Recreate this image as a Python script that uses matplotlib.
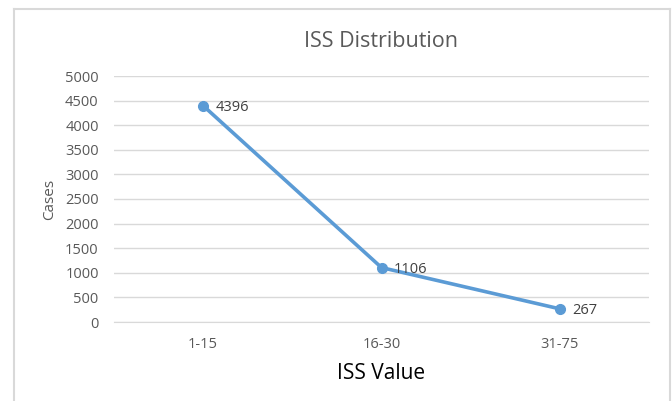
import matplotlib
matplotlib.use('Agg')
import matplotlib.pyplot as plt
from matplotlib.lines import Line2D

categorias = ['1-15', '16-30', '31-75']
casos = [4396, 1106, 267]
ticks_y = [0, 500, 1000, 1500, 2000, 2500, 3000, 3500, 4000, 4500, 5000]

plt.rcParams['font.family'] = ['Open Sans', 'DejaVu Sans']
gris = '#595959'

fig = plt.figure(figsize=(6.72, 4.01), dpi=100)
W, H = 672.0, 401.0
# area del grafico en pixeles
ax = fig.add_axes([114 / W, 1 - 322 / H, (649 - 114) / W, (322 - 76) / H])

x = list(range(len(categorias)))
ax.plot(x, casos, color='#5B9BD5', lw=2.6, marker='o', ms=7, zorder=3,
        solid_capstyle='round')
for xi, v in zip(x, casos):
    ax.annotate(str(v), (xi, v), xytext=(9, -1.5), textcoords='offset points',
                fontsize=10.5, color='#404040', va='center', ha='left')

ax.set_xlim(-0.5, len(categorias) - 0.5)
ax.set_ylim(0, 5000)
ax.set_yticks(ticks_y)
ax.set_xticks(x)
ax.set_xticklabels(categorias)
ax.grid(axis='y', color='#D9D9D9', lw=1)
ax.set_axisbelow(True)
for s in ['top', 'right', 'left']:
    ax.spines[s].set_visible(False)
ax.spines['bottom'].set_color('#D9D9D9')
ax.tick_params(length=0, colors=gris, labelsize=10.5)
ax.tick_params(axis='x', pad=11)
ax.tick_params(axis='y', pad=11)

ax.set_title('ISS Distribution', fontsize=15.5, color=gris, pad=21)
ax.set_xlabel('ISS Value', fontsize=15, color='black', labelpad=8)
ax.set_ylabel('Cases', fontsize=11, color=gris, labelpad=6)

# borde del cuadro
borde = '#D9D9D9'
fig.add_artist(Line2D([13.5 / W, 669.5 / W], [1 - 8.5 / H, 1 - 8.5 / H], color=borde, lw=1.5))
fig.add_artist(Line2D([13.5 / W, 13.5 / W], [0, 1 - 8.5 / H], color=borde, lw=1.5))
fig.add_artist(Line2D([669.5 / W, 669.5 / W], [0, 1 - 8.5 / H], color=borde, lw=1.5))

fig.savefig('out.png', dpi=100)
